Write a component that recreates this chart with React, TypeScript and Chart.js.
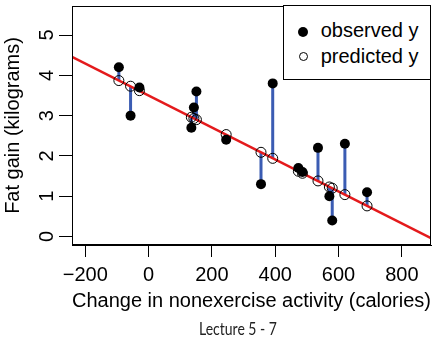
import React, { useEffect, useRef } from 'react';
import { Chart, registerables } from 'chart.js';

Chart.register(...registerables);

// Data
const activityChange = [-94, -57, -29, 135, 143, 151, 245, 355, 392, 473, 486, 535, 571, 580, 620, 690];
const observedFatGain = [4.2, 3.0, 3.7, 2.7, 3.2, 3.6, 2.4, 1.3, 3.8, 1.7, 1.6, 2.2, 1.0, 0.4, 2.3, 1.1];
const predictedFatGain = [3.87, 3.73, 3.62, 2.96, 2.93, 2.90, 2.53, 2.09, 1.94, 1.62, 1.57, 1.38, 1.23, 1.20, 1.04, 0.76];
const fitLineX = [-242, 892];
const fitLineY = [4.46, -0.04];
const xTicks = [-200, 0, 200, 400, 600, 800];
const yTicks = [0, 1, 2, 3, 4, 5];

const FONT = '"Liberation Sans", Arial, Helvetica, sans-serif';

const boxPlugin = {
  id: 'plotBox',
  afterDatasetsDraw(chart: any) {
    const { ctx, chartArea } = chart;
    const l = Math.round(chartArea.left) + 0.5;
    const t = Math.round(chartArea.top) + 0.5;
    const r = Math.round(chartArea.right) - 0.5;
    const b = Math.round(chartArea.bottom) - 0.5;
    ctx.save();
    ctx.strokeStyle = '#000';
    ctx.lineWidth = 1;
    ctx.strokeRect(l, t, r - l, b - t);
    ctx.restore();
  },
};

// R-style y tick labels, parallel to the axis (rotated), placed via the y scale
const yLabelPlugin = {
  id: 'yRotatedLabels',
  afterDraw(chart: any) {
    const { ctx } = chart;
    const s = chart.scales.y;
    ctx.save();
    ctx.font = '20px ' + FONT;
    ctx.fillStyle = '#000';
    ctx.textAlign = 'center';
    ctx.textBaseline = 'alphabetic';
    yTicks.forEach((v) => {
      const py = s.getPixelForValue(v);
      ctx.save();
      ctx.translate(s.right - 19, py);
      ctx.rotate(-Math.PI / 2);
      ctx.fillText(String(v), 0, 0);
      ctx.restore();
    });
    ctx.restore();
  },
};

export default function App() {
  const canvasRef = useRef<HTMLCanvasElement | null>(null);

  useEffect(() => {
    if (!canvasRef.current) return;
    Chart.defaults.font.family = FONT;
    Chart.defaults.color = '#000';

    const segments: any[] = [];
    activityChange.forEach((x, i) => {
      segments.push({ x, y: observedFatGain[i] });
      segments.push({ x, y: predictedFatGain[i] });
      segments.push({ x, y: null });
    });

    const chart = new Chart(canvasRef.current, {
      type: 'scatter',
      data: {
        datasets: [
          {
            label: 'predicted y',
            data: activityChange.map((x, i) => ({ x, y: predictedFatGain[i] })),
            pointRadius: 5,
            pointBackgroundColor: 'rgba(0,0,0,0)',
            pointBorderColor: '#000',
            pointBorderWidth: 1,
            order: 0,
          },
          {
            label: 'observed y',
            data: activityChange.map((x, i) => ({ x, y: observedFatGain[i] })),
            pointRadius: 5,
            pointBackgroundColor: '#000',
            pointBorderColor: '#000',
            pointBorderWidth: 0,
            order: 1,
          },
          {
            type: 'line',
            label: 'fit',
            data: fitLineX.map((x, i) => ({ x, y: fitLineY[i] })),
            borderColor: '#e41a1c',
            borderWidth: 2.5,
            pointRadius: 0,
            showLine: true,
            order: 2,
          },
          {
            type: 'line',
            label: 'residuals',
            data: segments,
            borderColor: '#3b5cb3',
            borderWidth: 3,
            pointRadius: 0,
            spanGaps: false,
            showLine: true,
            order: 3,
          },
        ] as any,
      },
      options: {
        animation: false,
        responsive: false,
        maintainAspectRatio: false,
        layout: { padding: { left: 0, right: 7, top: 5, bottom: 0 } },
        plugins: { legend: { display: false }, tooltip: { enabled: false } },
        scales: {
          x: {
            type: 'linear',
            min: -242,
            max: 892,
            afterBuildTicks: (s: any) => {
              s.ticks = xTicks.map((value) => ({ value }));
            },
            afterFit: (s: any) => {
              s.height = 96;
            },
            ticks: {
              callback: (v: any) => String(v).replace('-', '\u2212'),
              color: '#000',
              font: { size: 20, family: FONT },
              padding: 6,
              maxRotation: 0,
              autoSkip: false,
            },
            grid: { drawOnChartArea: false, tickLength: 12, color: '#000', lineWidth: 1 },
            border: { color: '#000', width: 1 },
            title: {
              display: true,
              text: 'Change in nonexercise activity (calories)',
              color: '#000',
              font: { size: 20, family: FONT },
              padding: { top: 0, bottom: 28 },
            },
          },
          y: {
            type: 'linear',
            min: -0.21,
            max: 5.72,
            afterBuildTicks: (s: any) => {
              s.ticks = yTicks.map((value) => ({ value }));
            },
            afterFit: (s: any) => {
              s.width = 72;
            },
            ticks: {
              display: false,
              autoSkip: false,
            },
            grid: { drawOnChartArea: false, drawTicks: true, tickLength: 13, color: '#000', lineWidth: 1 },
            border: { color: '#000', width: 1 },
            title: {
              display: true,
              text: 'Fat gain (kilograms)',
              color: '#000',
              font: { size: 20, family: FONT },
              padding: { top: 1, bottom: 0 },
            },
          },
        },
      } as any,
      plugins: [boxPlugin, yLabelPlugin],
    });
    return () => chart.destroy();
  }, []);

  return (
    <div style={{ position: 'fixed', left: 0, top: 0, width: 438, height: 341, background: '#fff' }}>
      <canvas ref={canvasRef} width={438} height={341} style={{ position: 'absolute', left: 0, top: 0, width: 438, height: 341 }} />
      <div
        style={{
          position: 'absolute',
          left: 283,
          top: 5,
          width: 148,
          height: 75,
          border: '1px solid #000',
          boxSizing: 'border-box',
          background: '#fff',
          fontFamily: FONT,
          fontSize: 20,
          lineHeight: '20px',
          color: '#000',
        }}
      >
        <div style={{ position: 'absolute', left: 14, top: 20.7, width: 10, height: 10, borderRadius: '50%', background: '#000' }} />
        <span style={{ position: 'absolute', left: 36.7, top: 14.4, whiteSpace: 'nowrap' }}>observed y</span>
        <div style={{ position: 'absolute', left: 14.5, top: 46.2, width: 9, height: 9, borderRadius: '50%', border: '1px solid #000', boxSizing: 'border-box' }} />
        <span style={{ position: 'absolute', left: 36.7, top: 39.8, whiteSpace: 'nowrap' }}>predicted y</span>
      </div>
      <div
        style={{
          position: 'absolute',
          left: 199,
          top: 323,
          fontFamily: 'Lato, "Open Sans", sans-serif',
          fontSize: 14,
          lineHeight: '14px',
          color: '#222',
          whiteSpace: 'nowrap',
          transform: 'scaleY(1.22)',
          transformOrigin: '0 12.4px',
        }}
      >
        Lecture 5 - 7
      </div>
    </div>
  );
}
